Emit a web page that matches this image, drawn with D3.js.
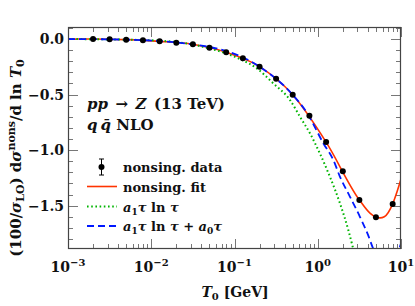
<!DOCTYPE html>
<html>
<head>
<meta charset="utf-8">
<script src="https://cdn.jsdelivr.net/npm/d3@7"></script>
<style>
  body { margin: 0; background: #fff; }
  svg { display: block; }
  text { font-family: "DejaVu Serif", serif; font-weight: bold; fill: #111; }
</style>
</head>
<body>
<script>
// nonsingular data points, tau in GeV
var tauData = [0.002, 0.00316, 0.005, 0.00794, 0.0126, 0.02, 0.0316, 0.05, 0.0794,
               0.126, 0.2, 0.316, 0.5, 0.794, 1.26, 2, 3.16, 5, 7.94];
var valData = [0, -0.003, -0.006, -0.012, -0.021, -0.033, -0.048, -0.078, -0.12,
               -0.174, -0.249, -0.357, -0.502, -0.69, -0.928, -1.19, -1.448, -1.604, -1.484];
var errData = [0.001, 0.001, 0.001, 0.001, 0.001, 0.002, 0.002, 0.002, 0.002,
               0.003, 0.003, 0.003, 0.004, 0.004, 0.005, 0.005, 0.006, 0.006, 0.008];

// curves
var tauFit = [0.001, 0.002, 0.005, 0.0126, 0.0316, 0.0794, 0.2, 0.5, 1.26, 3.16, 4.27, 5, 5.6, 6.3, 7.94, 9, 10];
var valFit = [0, 0, -0.006, -0.021, -0.048, -0.12, -0.249, -0.502, -0.928, -1.448, -1.57, -1.604, -1.61, -1.6, -1.484, -1.37, -1.26];

var tauLn = [0.001, 0.00316, 0.01, 0.0316, 0.05, 0.0794, 0.116, 0.185, 0.292, 0.465, 0.612, 0.808, 1.06, 1.4, 1.85, 2.33, 2.63, 2.82];
var valLn = [0, -0.004, -0.012, -0.05, -0.085, -0.13, -0.18, -0.264, -0.399, -0.55, -0.70, -0.85, -1.03, -1.24, -1.48, -1.72, -1.87, -1.96];

var tauLn0 = [0.001, 0.005, 0.0316, 0.2, 0.5, 0.736, 1.17, 1.54, 1.85, 2.44, 3.21, 4.05, 4.65, 5.62, 7.08, 8.5, 10];
var valLn0 = [0, -0.006, -0.048, -0.249, -0.502, -0.66, -0.94, -1.09, -1.24, -1.42, -1.6, -1.77, -1.89, -2.0, -2.05, -1.98, -1.84];

var xMajor = [1e-3, 1e-2, 1e-1, 1, 10];
var xExp = ["\u22123", "\u22122", "\u22121", "0", "1"];
var yMajor = [0, -0.5, -1.0, -1.5];
var yLabels = ["0.0", "\u22120.5", "\u22121.0", "\u22121.5"];

var width = 415, height = 306;
var pl = 68, pr = 401, pt = 27, pb = 249;

var x = d3.scaleLog().domain([1e-3, 10]).range([pl, pr]);
var y = d3.scaleLinear().domain([-1.89, 0.108]).range([pb, pt]);

var svg = d3.select("body").append("svg")
    .attr("width", width)
    .attr("height", height);

svg.append("clipPath").attr("id", "clip")
  .append("rect")
    .attr("x", pl).attr("y", pt)
    .attr("width", pr - pl).attr("height", pb - pt);

// minor ticks, 2..9 in each decade
var xMinor = [];
for (var d = -3; d < 1; d++) {
    for (var k = 2; k < 10; k++) xMinor.push(k * Math.pow(10, d));
}
var yMinor = d3.range(-18, 2).map(function(i) { return i / 10; })
    .filter(function(v) { return Math.abs(v * 2 - Math.round(v * 2)) > 1e-6; });

var ticks = svg.append("g").attr("stroke", "#777").attr("stroke-width", 1);

function xTicks(vals, len) {
    vals.forEach(function(v) {
        var px = Math.round(x(v)) + 0.5;
        ticks.append("line").attr("x1", px).attr("x2", px).attr("y1", pb).attr("y2", pb - len);
        ticks.append("line").attr("x1", px).attr("x2", px).attr("y1", pt).attr("y2", pt + len);
    });
}
function yTicks(vals, len) {
    vals.forEach(function(v) {
        var py = Math.round(y(v)) + 0.5;
        ticks.append("line").attr("x1", pl).attr("x2", pl + len).attr("y1", py).attr("y2", py);
        ticks.append("line").attr("x1", pr).attr("x2", pr - len).attr("y1", py).attr("y2", py);
    });
}
xTicks(xMinor, 5);
xTicks(xMajor, 10);
yTicks(yMinor, 5);
yTicks(yMajor, 10);

// tick labels
svg.append("g").selectAll("text")
    .data(xMajor)
  .enter().append("text")
    .attr("x", function(d) { return x(d); })
    .attr("y", 272)
    .attr("text-anchor", "middle")
    .style("font-size", "14px")
    .each(function(d, i) {
        var t = d3.select(this);
        t.append("tspan").text("10");
        t.append("tspan").attr("dy", -6).style("font-size", "10px").text(xExp[i]);
    });

svg.append("g").selectAll("text")
    .data(yMajor)
  .enter().append("text")
    .attr("x", 64)
    .attr("y", function(d) { return y(d) + 5; })
    .attr("text-anchor", "end")
    .style("font-size", "14px")
    .text(function(d, i) { return yLabels[i]; });

// axis titles
var xt = svg.append("text")
    .attr("x", 235).attr("y", 297)
    .attr("text-anchor", "middle")
    .style("font-size", "14px");
xt.append("tspan").style("font-style", "italic").text("T");
xt.append("tspan").attr("dy", 3).style("font-size", "10px").text("0");
xt.append("tspan").attr("dy", -3).text(" [GeV]");

var yt = svg.append("text")
    .attr("transform", "translate(21,158) rotate(-90)")
    .attr("text-anchor", "middle")
    .style("font-size", "15px");
yt.append("tspan").text("(100/");
yt.append("tspan").style("font-style", "italic").text("\u03c3");
yt.append("tspan").attr("dy", 3).style("font-size", "11px").text("LO");
yt.append("tspan").attr("dy", -3).text(") d");
yt.append("tspan").style("font-style", "italic").text("\u03c3");
yt.append("tspan").attr("dy", -6).style("font-size", "11px").text("nons");
yt.append("tspan").attr("dy", 6).text("/d ln ");
yt.append("tspan").style("font-style", "italic").text("T");
yt.append("tspan").attr("dy", 3).style("font-size", "11px").text("0");

// curves
var plot = svg.append("g").attr("clip-path", "url(#clip)");

function curve(taus, vals) {
    return d3.line()
        .x(function(d, i) { return x(taus[i]); })
        .y(function(d, i) { return y(vals[i]); })
        .curve(d3.curveMonotoneX)(vals);
}

plot.append("path")
    .attr("d", curve(tauFit, valFit))
    .attr("fill", "none").attr("stroke", "#ff3300").attr("stroke-width", 1.6);
plot.append("path")
    .attr("d", curve(tauLn, valLn))
    .attr("fill", "none").attr("stroke", "#00b400").attr("stroke-width", 2)
    .attr("stroke-dasharray", "1.6,2.6");
plot.append("path")
    .attr("d", curve(tauLn0, valLn0))
    .attr("fill", "none").attr("stroke", "#0018ff").attr("stroke-width", 1.8)
    .attr("stroke-dasharray", "7,4");

// data points with error bars
var pts = plot.append("g");
pts.selectAll("line")
    .data(valData)
  .enter().append("line")
    .attr("x1", function(d, i) { return x(tauData[i]); })
    .attr("x2", function(d, i) { return x(tauData[i]); })
    .attr("y1", function(d, i) { return y(d - errData[i]); })
    .attr("y2", function(d, i) { return y(d + errData[i]); })
    .attr("stroke", "#000").attr("stroke-width", 1);
pts.selectAll("circle")
    .data(valData)
  .enter().append("circle")
    .attr("cx", function(d, i) { return x(tauData[i]); })
    .attr("cy", function(d) { return y(d); })
    .attr("r", 3)
    .attr("fill", "#000");

// frame
svg.append("rect")
    .attr("x", pl + 0.5).attr("y", pt + 0.5)
    .attr("width", pr - pl - 1).attr("height", pb - pt - 1)
    .attr("fill", "none").attr("stroke", "#444").attr("stroke-width", 1.2);

// process labels
var p1 = svg.append("text").attr("x", 87).attr("y", 109).style("font-size", "15px");
p1.append("tspan").style("font-style", "italic").text("pp");
p1.append("tspan").text("\u2002\u2192\u2002");
p1.append("tspan").style("font-style", "italic").text("Z");
p1.append("tspan").text("\u2002(13 TeV)");

var p2 = svg.append("text").attr("x", 87).attr("y", 130).style("font-size", "15px");
p2.append("tspan").style("font-style", "italic").text("q\u2009q\u0304");
p2.append("tspan").text(" NLO");

// legend
var legY = [167, 186.5, 206.5, 226];
var lx0 = 87, lx1 = 117, tx = 123;
var leg = svg.append("g");

leg.append("line").attr("x1", 101.5).attr("x2", 101.5).attr("y1", legY[0] - 8).attr("y2", legY[0] + 8)
    .attr("stroke", "#000").attr("stroke-width", 1);
leg.append("line").attr("x1", 99).attr("x2", 104).attr("y1", legY[0] - 8).attr("y2", legY[0] - 8)
    .attr("stroke", "#000").attr("stroke-width", 1);
leg.append("line").attr("x1", 99).attr("x2", 104).attr("y1", legY[0] + 8).attr("y2", legY[0] + 8)
    .attr("stroke", "#000").attr("stroke-width", 1);
leg.append("circle").attr("cx", 101.5).attr("cy", legY[0]).attr("r", 3).attr("fill", "#000");

leg.append("line").attr("x1", lx0).attr("x2", lx1).attr("y1", legY[1]).attr("y2", legY[1])
    .attr("stroke", "#ff3300").attr("stroke-width", 1.6);
leg.append("line").attr("x1", lx0).attr("x2", lx1).attr("y1", legY[2]).attr("y2", legY[2])
    .attr("stroke", "#00b400").attr("stroke-width", 2).attr("stroke-dasharray", "1.6,2.6");
leg.append("line").attr("x1", lx0).attr("x2", lx1).attr("y1", legY[3]).attr("y2", legY[3])
    .attr("stroke", "#0018ff").attr("stroke-width", 1.8).attr("stroke-dasharray", "7,4");

leg.append("text").attr("x", tx).attr("y", legY[0] + 5).style("font-size", "13px").text("nonsing.  data");
leg.append("text").attr("x", tx).attr("y", legY[1] + 5).style("font-size", "13px").text("nonsing.  fit");

function lnLabel(t, withA0) {
    t.append("tspan").style("font-style", "italic").text("a");
    t.append("tspan").attr("dy", 3).style("font-size", "9px").text("1");
    t.append("tspan").attr("dy", -3).style("font-style", "italic").text("\u03c4");
    t.append("tspan").text(" ln ");
    t.append("tspan").style("font-style", "italic").text("\u03c4");
    if (withA0) {
        t.append("tspan").text(" + ");
        t.append("tspan").style("font-style", "italic").text("a");
        t.append("tspan").attr("dy", 3).style("font-size", "9px").text("0");
        t.append("tspan").attr("dy", -3).style("font-style", "italic").text("\u03c4");
    }
}
lnLabel(leg.append("text").attr("x", tx).attr("y", legY[2] + 5).style("font-size", "13px"), false);
lnLabel(leg.append("text").attr("x", tx).attr("y", legY[3] + 5).style("font-size", "13px"), true);
</script>
</body>
</html>
